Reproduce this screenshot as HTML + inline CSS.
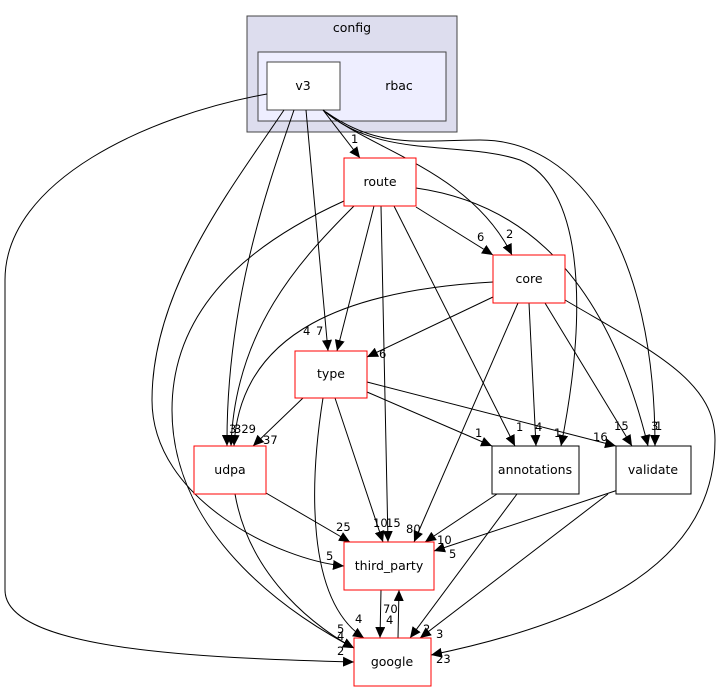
<!DOCTYPE html>
<html><head><meta charset="utf-8"><style>
html,body{margin:0;padding:0;background:#fff;}
svg{display:block;font-family:"DejaVu Sans","Liberation Sans",sans-serif;}
.e{fill:none;stroke:#000;stroke-width:1;}
.l{font-size:11.5px;fill:#000;}
.n{font-size:12.5px;fill:#000;text-anchor:middle;}
</style></head><body>
<svg width="719" height="692" viewBox="0 0 719 692" xmlns="http://www.w3.org/2000/svg">
<defs><marker id="a" markerUnits="userSpaceOnUse" markerWidth="12" markerHeight="10" refX="11" refY="5" orient="auto"><path d="M0,0 L11,5 L0,10 Z" fill="#000"/></marker></defs>
<rect x="247" y="16" width="210" height="116" fill="#ddddee" stroke="#444" stroke-width="1"/>
<text class="n" x="352" y="32">config</text>
<rect x="258" y="52" width="188" height="69" fill="#eeeeff" stroke="#444"/>
<text class="n" x="399" y="90">rbac</text>
<rect x="267" y="62" width="73" height="48" fill="#fff" stroke="#444"/>
<text class="n" x="303" y="90">v3</text>

<g class="e" marker-end="url(#a)">
<path d="M267,94 C150,115 5,180 5,280 L5,590 C5,650 200,658 354,662"/>
<path d="M284,110 C230,190 152,290 152,400 C152,500 280,560 344,566"/>
<path d="M294,110 C270,180 226,300 227,446"/>
<path d="M306,110 L328,351"/>
<path d="M323,110 L360,158"/>
<path d="M323,110 C370,150 470,170 512,255"/>
<path d="M323,110 C380,160 460,140 520,160 C580,185 590,300 561,446"/>
<path d="M326,112 C380,150 420,140 480,140 C580,140 655,250 655,446"/>
<path d="M416,188 C500,200 600,250 648,446"/>
<path d="M416,207 L493,255"/>
<path d="M374,206 L337,351"/>
<path d="M354,206 C300,260 235,330 231,446"/>
<path d="M381,206 L388,542"/>
<path d="M394,206 L515,446"/>
<path d="M344,201 C280,230 172,290 172,410 C172,540 300,620 354,648"/>
<path d="M493,297 L367,357"/>
<path d="M493,282 C350,290 240,330 234,446"/>
<path d="M518,303 L414,542"/>
<path d="M529,303 L536,446"/>
<path d="M545,303 L632,446"/>
<path d="M565,300 C650,350 715,380 715,440 C715,560 600,620 431,655"/>
<path d="M303,398 L253,446"/>
<path d="M335,398 L383,542"/>
<path d="M367,392 L492,446"/>
<path d="M367,382 L616,446"/>
<path d="M323,398 C310,480 305,600 364,638"/>
<path d="M266,493 L350,542"/>
<path d="M235,494 C250,580 320,630 354,648"/>
<path d="M497,494 L425,542"/>
<path d="M517,494 L410,638"/>
<path d="M618,490 L434,551"/>
<path d="M608,494 L420,638"/>
<path d="M381,590 L380,638"/>
<path d="M398,638 L399,590"/>
</g>

<rect x="344" y="158" width="72" height="48" fill="#fff" stroke="#f00"/>
<text class="n" x="380" y="186">route</text>
<rect x="493" y="255" width="72" height="48" fill="#fff" stroke="#f00"/>
<text class="n" x="529" y="283">core</text>
<rect x="295" y="351" width="72" height="47" fill="#fff" stroke="#f00"/>
<text class="n" x="331" y="378">type</text>
<rect x="194" y="446" width="72" height="48" fill="#fff" stroke="#f00"/>
<text class="n" x="230" y="474">udpa</text>
<rect x="492" y="446" width="87" height="48" fill="#fff" stroke="#000"/>
<text class="n" x="535" y="474">annotations</text>
<rect x="616" y="446" width="75" height="48" fill="#fff" stroke="#000"/>
<text class="n" x="653" y="474">validate</text>
<rect x="344" y="542" width="90" height="48" fill="#fff" stroke="#f00"/>
<text class="n" x="389" y="570">third_party</text>
<rect x="354" y="638" width="77" height="48" fill="#fff" stroke="#f00"/>
<text class="n" x="392" y="666">google</text>

<g class="l">
<text x="351" y="143">1</text>
<text x="477" y="241">6</text>
<text x="506" y="238">2</text>
<text x="303" y="335">4</text>
<text x="316" y="335">7</text>
<text x="379" y="358">6</text>
<text x="229" y="433">3</text>
<text x="234" y="433">329</text>
<text x="263" y="444">37</text>
<text x="475" y="437">1</text>
<text x="516" y="431">1</text>
<text x="535" y="431">4</text>
<text x="554" y="437">1</text>
<text x="593" y="441">16</text>
<text x="614" y="430">15</text>
<text x="651" y="430">3</text>
<text x="655" y="430">1</text>
<text x="336" y="531">25</text>
<text x="373" y="527">10</text>
<text x="386" y="527">15</text>
<text x="406" y="533">80</text>
<text x="437" y="544">10</text>
<text x="449" y="558">5</text>
<text x="326" y="560">5</text>
<text x="383" y="613">70</text>
<text x="386" y="624">4</text>
<text x="355" y="623">4</text>
<text x="337" y="633">5</text>
<text x="337" y="640">4</text>
<text x="337" y="655">2</text>
<text x="423" y="633">2</text>
<text x="436" y="638">3</text>
<text x="436" y="663">23</text>
</g>
</svg>
</body></html>
